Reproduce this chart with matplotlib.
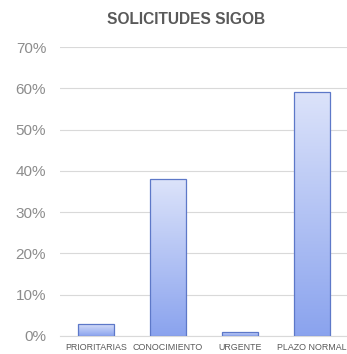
import matplotlib
matplotlib.use("Agg")
import matplotlib.pyplot as plt
import numpy as np
from matplotlib.colors import LinearSegmentedColormap

plt.rcParams["font.family"] = ["Liberation Sans", "DejaVu Sans"]

categories = ["PRIORITARIAS", "CONOCIMIENTO", "URGENTE", "PLAZO NORMAL"]
values = [0.03, 0.38, 0.01, 0.59]
yticks = [0, 0.1, 0.2, 0.3, 0.4, 0.5, 0.6, 0.7]
ytick_labels = ["0%", "10%", "20%", "30%", "40%", "50%", "60%", "70%"]

fig = plt.figure(figsize=(3.47, 3.54), dpi=100)
ax = fig.add_axes([0.173, 0.051, 0.83, 0.816])

x = np.arange(len(categories))
bars = ax.bar(x, values, width=0.51, facecolor="none", edgecolor="#5d78c8", linewidth=0.9, zorder=3)

cmap = LinearSegmentedColormap.from_list("g", ["#8aa3ee", "#dce3fa"])
grad = np.linspace(0, 1, 256).reshape(-1, 1)
for b in bars:
    bx, by = b.get_x(), b.get_y()
    w, h = b.get_width(), b.get_height()
    im = ax.imshow(grad, extent=[bx, bx + w, by, by + h], origin="lower",
                   cmap=cmap, aspect="auto", zorder=2)
    im.set_clip_path(b)

ax.set_xlim(-0.5, 3.5)
ax.set_ylim(0, 0.7)
ax.set_yticks(yticks)
ax.set_yticklabels(ytick_labels, color="#8c8c8c", fontsize=11)
ax.set_xticks(x)
ax.set_xticklabels(categories, color="#595959", fontsize=6.4)
ax.tick_params(axis="both", length=0)
ax.tick_params(axis="y", pad=10)
ax.tick_params(axis="x", pad=5)
ax.yaxis.grid(True, color="#d9d9d9", linewidth=0.8, zorder=0)
ax.set_axisbelow(True)
for s in ["top", "right", "left"]:
    ax.spines[s].set_visible(False)
ax.spines["bottom"].set_color("#d9d9d9")
ax.spines["bottom"].set_linewidth(0.8)

fig.text(0.537, 0.944, "SOLICITUDES SIGOB", ha="center", va="center",
         fontsize=11.2, fontweight="bold", color="#595959")

fig.savefig("out.png", dpi=100)
